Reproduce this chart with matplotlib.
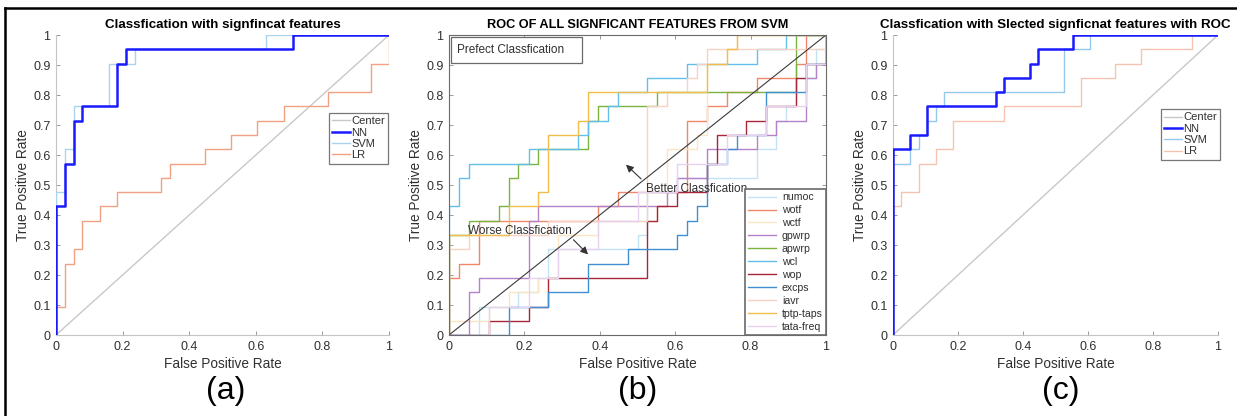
import matplotlib
matplotlib.use('Agg')
import matplotlib.pyplot as plt
from matplotlib.lines import Line2D
from matplotlib.patches import Rectangle
from matplotlib.ticker import FuncFormatter
import numpy as np

plt.rcParams['font.family'] = ['Liberation Sans', 'DejaVu Sans']

# ---- panel (a): classification with significant features ----
a_nn_fpr = [0, 0, 0.026, 0.053, 0.079, 0.184, 0.211, 0.711, 1]
a_nn_tpr = [0, 0.429, 0.571, 0.714, 0.762, 0.905, 0.952, 1.0, 1.0]
a_svm_fpr = [0, 0, 0.026, 0.053, 0.158, 0.237, 0.632, 1]
a_svm_tpr = [0, 0.476, 0.619, 0.762, 0.905, 0.952, 1.0, 1.0]
a_lr_fpr = [0, 0, 0.026, 0.053, 0.079, 0.132, 0.184, 0.316, 0.342, 0.447,
            0.526, 0.605, 0.684, 0.816, 0.947, 1.0]
a_lr_tpr = [0, 0.095, 0.238, 0.286, 0.381, 0.429, 0.476, 0.524, 0.571, 0.619,
            0.667, 0.714, 0.762, 0.81, 0.905, 1.0]

# ---- panel (b): ROC of all significant features from SVM ----
numoc_fpr = [0, 0.079, 0.184, 0.237, 0.263, 0.5, 0.526, 0.605, 0.816, 0.868, 0.895, 0.921, 0.974, 1]
numoc_tpr = [0, 0.095, 0.143, 0.19, 0.286, 0.333, 0.476, 0.524, 0.619, 0.714, 0.762, 0.857, 0.952, 1]
wotf_fpr = [0, 0, 0.026, 0.079, 0.395, 0.447, 0.632, 0.684, 0.737, 0.816, 0.921, 0.947, 1]
wotf_tpr = [0, 0.19, 0.238, 0.381, 0.429, 0.476, 0.714, 0.762, 0.81, 0.857, 0.905, 1.0, 1.0]
wctf_fpr = [0, 0, 0.105, 0.158, 0.237, 0.289, 0.395, 0.553, 0.579, 0.658, 0.684, 0.737, 0.763, 1]
wctf_tpr = [0, 0.048, 0.095, 0.143, 0.19, 0.333, 0.381, 0.429, 0.619, 0.667, 0.905, 0.952, 1.0, 1.0]
gpwrp_fpr = [0, 0.053, 0.079, 0.211, 0.237, 0.579, 0.605, 0.684, 0.816, 0.868, 0.947, 0.974, 1]
gpwrp_tpr = [0, 0.143, 0.19, 0.381, 0.429, 0.476, 0.524, 0.619, 0.667, 0.714, 0.857, 0.905, 1]
apwrp_fpr = [0, 0, 0.053, 0.132, 0.158, 0.184, 0.237, 0.368, 0.395, 0.553, 0.921, 1]
apwrp_tpr = [0, 0.333, 0.381, 0.429, 0.524, 0.571, 0.619, 0.714, 0.762, 0.81, 1.0, 1.0]
wcl_fpr = [0, 0, 0.026, 0.053, 0.211, 0.342, 0.368, 0.421, 0.447, 0.526, 0.632, 0.816, 0.895, 1]
wcl_tpr = [0, 0.429, 0.524, 0.571, 0.619, 0.667, 0.714, 0.762, 0.81, 0.857, 0.905, 0.952, 1.0, 1.0]
wop_fpr = [0, 0.105, 0.211, 0.263, 0.526, 0.553, 0.605, 0.684, 0.711, 0.789, 0.842, 0.921, 0.947, 1]
wop_tpr = [0, 0.048, 0.095, 0.19, 0.381, 0.429, 0.476, 0.571, 0.667, 0.714, 0.762, 0.857, 0.905, 1]
excps_fpr = [0, 0.158, 0.263, 0.368, 0.474, 0.605, 0.632, 0.658, 0.684, 0.737, 0.763, 0.842, 0.947, 1]
excps_tpr = [0, 0.095, 0.143, 0.238, 0.286, 0.333, 0.381, 0.429, 0.571, 0.619, 0.667, 0.81, 0.905, 1]
iavr_fpr = [0, 0, 0.053, 0.263, 0.526, 0.579, 0.632, 0.658, 0.684, 1]
iavr_tpr = [0, 0.286, 0.333, 0.381, 0.762, 0.81, 0.857, 0.905, 0.952, 1.0]
tptp_fpr = [0, 0, 0.158, 0.237, 0.263, 0.342, 0.368, 0.684, 0.737, 0.763, 1]
tptp_tpr = [0, 0.333, 0.429, 0.476, 0.667, 0.714, 0.81, 0.905, 0.952, 1.0, 1.0]
tata_fpr = [0, 0.105, 0.211, 0.289, 0.395, 0.5, 0.605, 0.737, 0.842, 0.947, 1]
tata_tpr = [0, 0.095, 0.19, 0.286, 0.381, 0.476, 0.571, 0.667, 0.762, 0.905, 1]

feature_names = ['numoc', 'wotf', 'wctf', 'gpwrp', 'apwrp', 'wcl', 'wop',
                 'excps', 'iavr', 'tptp-taps', 'tata-freq']
feature_colors = ['#c3e2f4', '#f0866a', '#fbe6c4', '#b382c9', '#7ab43e', '#62bfea',
                  '#a8253a', '#3f8fd2', '#f7d2c4', '#f3bd4c', '#e6d2ef']

# ---- panel (c): selected significant features ----
c_nn_fpr = [0, 0, 0.053, 0.105, 0.316, 0.342, 0.421, 0.447, 0.553, 1]
c_nn_tpr = [0, 0.619, 0.667, 0.762, 0.81, 0.857, 0.905, 0.952, 1.0, 1.0]
c_svm_fpr = [0, 0, 0.053, 0.079, 0.105, 0.132, 0.158, 0.526, 0.605, 1]
c_svm_tpr = [0, 0.571, 0.619, 0.667, 0.714, 0.762, 0.81, 0.952, 1.0, 1.0]
c_lr_fpr = [0, 0, 0.026, 0.079, 0.132, 0.184, 0.342, 0.579, 0.684, 0.763, 0.921, 1]
c_lr_tpr = [0, 0.429, 0.476, 0.571, 0.619, 0.714, 0.762, 0.857, 0.905, 0.952, 1.0, 1.0]

TXT = '#303030'


def style_axes(ax, boxed):
    ax.set_xlim(0, 1)
    ax.set_ylim(0, 1)
    ax.set_xticks(np.arange(0, 1.01, 0.2))
    ax.set_yticks(np.arange(0, 1.01, 0.1))
    fmt = FuncFormatter(lambda v, p: f'{round(v, 2):g}')
    ax.xaxis.set_major_formatter(fmt)
    ax.yaxis.set_major_formatter(fmt)
    ax.tick_params(direction='in', length=3, width=0.7, labelsize=9,
                   pad=4, colors='#999999')
    ax.tick_params(labelcolor=TXT)
    for s in ax.spines.values():
        s.set_linewidth(0.8)
        s.set_color('#6a6a6a' if boxed else '#c4c4c4')
    if boxed:
        ax.tick_params(top=True, right=True)
    else:
        ax.spines['top'].set_visible(False)
        ax.spines['right'].set_visible(False)
    ax.set_xlabel('False Positive Rate', fontsize=9.8, color=TXT, labelpad=3)
    ax.set_ylabel('True Positive Rate', fontsize=9.8, color=TXT, labelpad=2)


def small_legend(ax, x0, top):
    leg = ax.legend(loc='upper left', bbox_to_anchor=(x0, top), borderaxespad=0,
                    fontsize=8, handlelength=1.6, handletextpad=0.1,
                    labelspacing=0.12, borderpad=0.3, fancybox=False,
                    framealpha=1, edgecolor='#777777')
    leg.get_frame().set_linewidth(0.9)
    for t in leg.get_texts():
        t.set_color(TXT)


fig = plt.figure(figsize=(12.37, 4.16), dpi=100)

# panel (a)
ax1 = fig.add_axes([56/1237, 81/416, 333/1237, 300/416])
ax1.plot([0, 1], [0, 1], color='#c8c8c8', lw=1, label='Center')
ax1.step(a_nn_fpr, a_nn_tpr, where='post', color='#1a1aff', lw=1.8, label='NN', zorder=4)
ax1.step(a_svm_fpr, a_svm_tpr, where='post', color='#a9d3ee', lw=1, label='SVM', zorder=3)
ax1.step(a_lr_fpr, a_lr_tpr, where='post', color='#f2a184', lw=1, label='LR')
style_axes(ax1, False)
ax1.set_title('Classfication with signfincat features', fontsize=9.6,
              fontweight='bold', pad=5)
small_legend(ax1, 0.82, 0.74)

# panel (b)
ax2 = fig.add_axes([449/1237, 81/416, 377/1237, 300/416])
b_fprs = [numoc_fpr, wotf_fpr, wctf_fpr, gpwrp_fpr, apwrp_fpr, wcl_fpr,
          wop_fpr, excps_fpr, iavr_fpr, tptp_fpr, tata_fpr]
b_tprs = [numoc_tpr, wotf_tpr, wctf_tpr, gpwrp_tpr, apwrp_tpr, wcl_tpr,
          wop_tpr, excps_tpr, iavr_tpr, tptp_tpr, tata_tpr]
for f, t, name, col in zip(b_fprs, b_tprs, feature_names, feature_colors):
    ax2.step(f, t, where='post', color=col, lw=1, label=name)
ax2.plot([0, 1], [0, 1], color='#3a3a3a', lw=0.8)
style_axes(ax2, True)
ax2.set_title('ROC OF ALL SIGNFICANT FEATURES FROM SVM', fontsize=9.2,
              fontweight='bold', pad=5)
ax2.add_patch(Rectangle((0.005, 0.906), 0.347, 0.087, transform=ax2.transAxes,
                        fc='white', ec='#6a6a6a', lw=0.9, zorder=5))
ax2.text(0.022, 0.95, 'Prefect Classfication', transform=ax2.transAxes,
         fontsize=8.5, color=TXT, va='center', ha='left', zorder=6)
ax2.annotate('', xy=(0.464, 0.574), xytext=(0.515, 0.514),
             arrowprops=dict(arrowstyle='-|>', color='#333333', lw=0.8,
                             mutation_scale=11))
ax2.text(0.522, 0.487, 'Better Classfication', fontsize=8.5, color=TXT,
         va='center', ha='left')
ax2.annotate('', xy=(0.374, 0.262), xytext=(0.325, 0.324),
             arrowprops=dict(arrowstyle='-|>', color='#333333', lw=0.8,
                             mutation_scale=11))
ax2.text(0.05, 0.346, 'Worse Classfication', fontsize=8.5, color=TXT,
         va='center', ha='left')
leg2 = ax2.legend(loc='lower right', bbox_to_anchor=(1, 0), borderaxespad=0,
                  fontsize=7.6, handlelength=2.6, handletextpad=0.6,
                  labelspacing=0.28, borderpad=0.3, fancybox=False,
                  framealpha=1, edgecolor='#6a6a6a')
leg2.get_frame().set_linewidth(1.2)
for t in leg2.get_texts():
    t.set_color(TXT)

# panel (c)
ax3 = fig.add_axes([893/1237, 81/416, 325/1237, 300/416])
ax3.plot([0, 1], [0, 1], color='#c8c8c8', lw=1, label='Center')
ax3.step(c_nn_fpr, c_nn_tpr, where='post', color='#1a1aff', lw=1.8, label='NN', zorder=4)
ax3.step(c_svm_fpr, c_svm_tpr, where='post', color='#95c8ea', lw=1, label='SVM', zorder=3)
ax3.step(c_lr_fpr, c_lr_tpr, where='post', color='#f7c3b1', lw=1, label='LR')
style_axes(ax3, False)
ax3.set_title('Classfication with Slected signficnat features with ROC', fontsize=9.6,
              fontweight='bold', pad=5)
small_legend(ax3, 0.825, 0.753)

# panel letters
for x, s in [(226, '(a)'), (638, '(b)'), (1061, '(c)')]:
    fig.text(x/1237, 25/416, s, fontsize=23, ha='center', va='center')

# frame lines along the top and left edge
fig.add_artist(Line2D([5/1237, 1], [1 - 8/416, 1 - 8/416], color='black', lw=1.8))
fig.add_artist(Line2D([5/1237, 5/1237], [0, 1 - 8/416], color='black', lw=1.8))

fig.savefig('out.png', dpi=100)
